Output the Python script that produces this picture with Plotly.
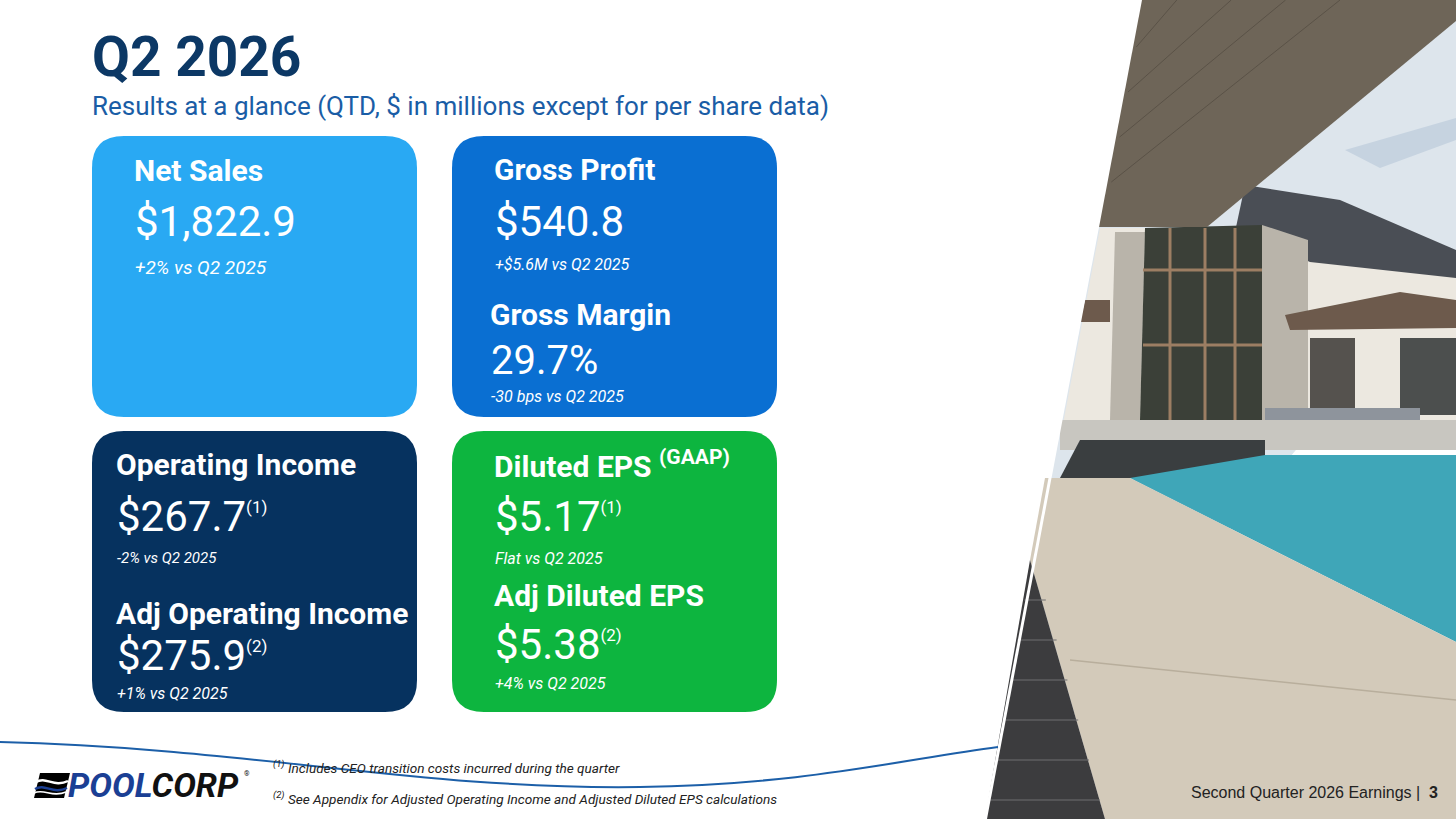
import plotly.graph_objects as go

# slide content
title = "Q2 2026"
subtitle = "Results at a glance (QTD, $ in millions except for per share data)"

card_colors = ["#29A9F3", "#0A6FD2", "#06325F", "#0DB53F"]

headers = ["Net Sales", "Gross Profit", "Gross Margin", "Operating Income",
           "Adj Operating Income", "Diluted EPS <sup>(GAAP)</sup>", "Adj Diluted EPS"]
values = ["$1,822.9", "$540.8", "29.7%", "$267.7", "$275.9", "$5.17", "$5.38"]
value_notes = ["", "", "", "(1)", "(2)", "(1)", "(2)"]
changes = ["+2% vs Q2 2025", "+$5.6M vs Q2 2025", "-30 bps vs Q2 2025", "-2% vs Q2 2025",
           "+1% vs Q2 2025", "Flat vs Q2 2025", "+4% vs Q2 2025"]

footnotes = ["Includes CEO transition costs incurred during the quarter",
             "See Appendix for Adjusted Operating Income and Adjusted Diluted EPS calculations"]
footer = "Second Quarter 2026 Earnings |  <b>3</b>"

W, H = 1456, 819
FONT = "Roboto"


def rounded_rect(x0, y0, x1, y1, r):
    return (f"M {x0+r},{y0} L {x1-r},{y0} Q {x1},{y0} {x1},{y0+r} "
            f"L {x1},{y1-r} Q {x1},{y1} {x1-r},{y1} L {x0+r},{y1} "
            f"Q {x0},{y1} {x0},{y1-r} L {x0},{y0+r} Q {x0},{y0} {x0+r},{y0} Z")


def poly(pts):
    return "M " + " L ".join(f"{x},{y}" for x, y in pts) + " Z"


fig = go.Figure()
shapes = []
annos = []

# cards
card_boxes = [(92, 136, 417, 417), (452, 136, 777, 417),
              (92, 431, 417, 712), (452, 431, 777, 712)]
for (x0, y0, x1, y1), c in zip(card_boxes, card_colors):
    shapes.append(dict(type="path", path=rounded_rect(x0, y0, x1, y1, 32),
                       fillcolor=c, line_width=0, layer="below"))

# photo (rough rendition of the pool / house picture)
photo = [
    ([(1140, 0), (1456, 0), (1456, 260), (985, 819)], "#DDE5EC"),                 # sky
    ([(1345, 150), (1456, 118), (1456, 140), (1380, 168)], "#C6D3E0"),            # cloud shade
    ([(1245, 185), (1340, 200), (1456, 250), (1456, 280), (1310, 265), (1235, 232)], "#4A4E55"),  # roof
    ([(1100, 228), (1235, 228), (1310, 262), (1456, 278), (1456, 440), (1060, 440)], "#ECE8E0"),  # house wall
    ([(1115, 232), (1145, 232), (1140, 420), (1110, 420)], "#B9B4AA"),            # stone col
    ([(1262, 225), (1308, 240), (1308, 420), (1262, 420)], "#B9B4AA"),            # stone col
    ([(1145, 228), (1262, 225), (1262, 420), (1140, 420)], "#3B4038"),            # windows
    ([(1285, 315), (1400, 292), (1456, 300), (1456, 328), (1290, 330)], "#6D5A4C"),  # lower roof
    ([(1085, 300), (1110, 300), (1110, 322), (1080, 322)], "#6D5A4C"),            # left roof
    ([(1400, 338), (1456, 338), (1456, 415), (1400, 415)], "#4C4F4E"),            # glass doors
    ([(1310, 338), (1355, 338), (1355, 415), (1310, 415)], "#55524E"),            # doors
    ([(1265, 408), (1420, 408), (1420, 438), (1265, 438)], "#8E949C"),            # sofa
    ([(1060, 420), (1456, 420), (1456, 450), (1060, 450)], "#C8C6C0"),            # terrace
    ([(1080, 440), (1265, 440), (1265, 478), (1060, 478)], "#3A3E40"),            # stone wall
    ([(1130, 478), (1265, 455), (1456, 455), (1456, 642)], "#3FA6B8"),            # pool
    ([(1045, 478), (1130, 478), (1456, 642), (1456, 819), (1105, 819), (1030, 560)], "#D3CABA"),  # deck
    ([(1030, 560), (1105, 819), (985, 819)], "#3C3C3E"),                          # bricks
    ([(1140, 0), (1456, 0), (1456, 21), (1207, 227), (1098, 227)], "#6E6558"),    # ceiling
]
for pts, c in photo:
    shapes.append(dict(type="path", path=poly(pts), fillcolor=c, line_width=0, layer="below"))
# window frames
for fx in [1170, 1205, 1235]:
    shapes.append(dict(type="line", x0=fx, x1=fx, y0=228, y1=420,
                       line=dict(color="#9C7E63", width=3), layer="below"))
for fy in [270, 345]:
    shapes.append(dict(type="line", x0=1143, x1=1262, y0=fy, y1=fy,
                       line=dict(color="#9C7E63", width=3), layer="below"))
# ceiling boards, parallel to the ceiling edge
for by in [182, 137, 92, 47]:
    shapes.append(dict(type="line", x0=1145 - by * 42 / 227, y0=by, x1=1120 + by * 249 / 206, y1=0,
                       line=dict(color="#5A5247", width=1), layer="below"))
# deck joints and bricks
shapes.append(dict(type="line", x0=1070, y0=660, x1=1456, y1=700,
                   line=dict(color="#B8AE9C", width=1.5), layer="below"))
for by in [600, 640, 680, 720, 760, 800]:
    shapes.append(dict(type="line", x0=985 + (819 - by) * 0.18, x1=1035 + (by - 560) * 0.27,
                       y0=by, y1=by, line=dict(color="#6E6E70", width=1), layer="below"))
# white diagonal edge over the photo
shapes.append(dict(type="path", path=poly([(1139, 0), (1142, 0), (987, 819), (984, 819)]),
                   fillcolor="white", line_width=0, layer="below"))

# wave line at the bottom
shapes.append(dict(type="path", path="M 0,742 C 250,748 420,790 640,787 C 800,785 900,760 998,747",
                   line=dict(color="#1C5FA8", width=2), layer="below"))

# logo icon
shapes.append(dict(type="path", path=poly([(40, 773), (70, 773), (64, 798), (34, 798)]),
                   fillcolor="black", line_width=0))
shapes.append(dict(type="path", path="M 36,782 C 46,776 54,788 68,781",
                   line=dict(color="white", width=2.5)))
shapes.append(dict(type="path", path="M 35,789 C 45,783 53,795 67,788",
                   line=dict(color="#1B3F94", width=2.5)))
shapes.append(dict(type="path", path="M 34,793 C 44,788 52,798 66,792",
                   line=dict(color="white", width=1.5)))


def txt(x, y, s, size, color="white", weight="normal", style="normal", xanchor="left", family=FONT):
    annos.append(dict(x=x, y=y, xref="x", yref="y", text=s, showarrow=False,
                      xanchor=xanchor, yanchor="middle", align="left",
                      font=dict(family=family, size=size, color=color, weight=weight, style=style)))


txt(90, 57, title, 55, color="#0C3865", weight="bold")
txt(90, 106, subtitle, 26, color="#1A5DA6")

# header / value / change positions in each card
hx = [134, 494, 490, 116, 116, 494, 494]
hy = [170, 169, 314, 464, 613, 464, 595]
vy = [221, 221, 360, 516, 655, 516, 644]
cy = [267, 264, 396, 558, 693, 558, 683]
vsize = [42, 42, 40, 42, 42, 42, 42]
csize = [19, 16, 16, 15, 16, 16, 16]
for i in range(len(headers)):
    txt(hx[i] - 2, hy[i], headers[i], 30, weight="bold")
    v = values[i]
    if value_notes[i]:
        v += f"<sup><span style='font-size:17px'>{value_notes[i]}</span></sup>"
    txt(hx[i] - 1, vy[i], v, vsize[i])
    txt(hx[i] - 1, cy[i], changes[i], csize[i], style="italic")

# footnotes
for k, (fn, fy) in enumerate(zip(footnotes, [767, 798])):
    txt(271, fy, f"<sup>({k + 1})</sup> {fn}", 13.6, color="#222222", style="italic")

# logo text
txt(66, 785, "<b><i><span style='color:#1B3F94'>POOL</span>CORP</i></b>", 34, color="#111111")
txt(242, 774, "®", 7, color="#111111")

# footer
txt(1440, 792, footer, 16, color="#222222", xanchor="right", family="Liberation Sans")

fig.update_layout(
    width=W, height=H,
    margin=dict(l=0, r=0, t=0, b=0),
    paper_bgcolor="white", plot_bgcolor="white",
    xaxis=dict(range=[0, W], visible=False, fixedrange=True),
    yaxis=dict(range=[H, 0], visible=False, fixedrange=True),
    shapes=shapes, annotations=annos, showlegend=False,
)

fig.write_html("out.html", config={"displayModeBar": False},
               post_script="document.body.style.margin='0';")
